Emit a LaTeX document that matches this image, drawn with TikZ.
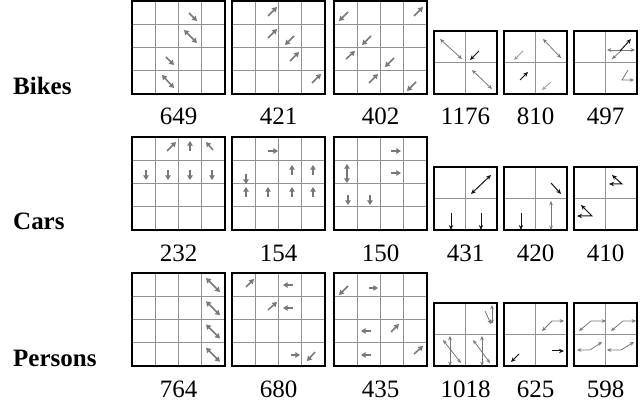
\documentclass[tikz,border=0pt]{standalone}
\usepackage{fontspec}
\setmainfont{Liberation Serif}
\usetikzlibrary{arrows.meta}
\definecolor{gridgray}{RGB}{145,145,145}
\definecolor{arrgray}{RGB}{120,120,120}
\definecolor{lightarr}{RGB}{160,160,160}
\definecolor{darkarr}{RGB}{20,20,20}
\tikzset{
 ga/.style={draw=arrgray,line width=1.5pt,-{Triangle[length=4.6pt,width=5.4pt]}},
 gd/.style={draw=arrgray,line width=1.5pt,{Triangle[length=4.6pt,width=5.4pt]}-{Triangle[length=4.6pt,width=5.4pt]}},
 sa/.style={draw=arrgray,line width=.8pt,-{Stealth[length=4.4pt,width=3.8pt]}},
 sd/.style={draw=arrgray,line width=.8pt,{Stealth[length=4.4pt,width=3.8pt]}-{Stealth[length=4.4pt,width=3.8pt]}},
 la/.style={sa,draw=lightarr},
 ba/.style={draw=darkarr,line width=1pt,-{Stealth[length=5pt,width=4.4pt]}},
 bd/.style={ba,{Stealth[length=5pt,width=4.4pt]}-{Stealth[length=5pt,width=4.4pt]}},
 rowlabel/.style={anchor=base west,font=\fontsize{25}{30}\selectfont\bfseries,inner sep=0pt},
 count/.style={anchor=base,font=\fontsize{25}{30}\selectfont,inner sep=0pt}
}
% big 4x4 grid and small 2x2 grid, top left corner given
\newcommand\biggrid[2]{\foreach\k in{1,2,3}{\draw[gridgray,line width=.9pt](#1+23.25*\k,#2)--++(0,93) (#1,#2+23.25*\k)--++(93,0);}\draw[line width=2.6pt](#1,#2)rectangle++(93,93);}
\newcommand\smallgrid[2]{\draw[gridgray,line width=.9pt](#1+31.5,#2)--++(0,63) (#1,#2+31.5)--++(63,0);\draw[line width=1.6pt](#1,#2)rectangle++(63,63);}
\begin{document}
\begin{tikzpicture}[x=1pt,y=-1pt]
\useasboundingbox(0,0)rectangle(641,406);
\foreach\t in{1,137,273}{\foreach\l in{132,232,334}{\biggrid{\l}{\t}}\foreach\l in{434,504,574}{\smallgrid{\l}{\t+30}}}
\node[rowlabel](bikes)at(13,95){Bikes};\node[rowlabel](cars)at(13,230){Cars};\node[rowlabel](persons)at(13,367){Persons};
\foreach\x/\a/\b/\c [count=\i] in{178.5/649/232/764,278.5/421/154/680,380.5/402/150/435,465.5/1176/431/1018,535.5/810/420/625,605.5/497/410/598}{
 \node[count](n1\i)at(\x,125){\a};\node[count](n2\i)at(\x,262){\b};\node[count](n3\i)at(\x,398){\c};}
% Bikes
\draw[ga](189,13)--(197,21);\draw[gd](184,30)--(197,43);\draw[ga](166,57)--(174,65);\draw[gd](162,75)--(174,88);
\draw[ga](268,16)--(277,7);\draw[ga](268,38)--(277,29);\draw[ga](294,36)--(285,45);\draw[ga](290,61)--(299,52);\draw[ga](312,83)--(321,74);
\draw[ga](348,12)--(339,21);\draw[ga](414,16)--(423,7);\draw[ga](371,36)--(362,45);\draw[ga](346,59)--(355,51);\draw[ga](394,58)--(385,67);\draw[ga](369,83)--(378,74);\draw[ga](416,82)--(407,91);
\draw[sd](440,39)--(462,59);\draw[ba](479,51)--(470,60);\draw[sd](472,70)--(492,89);
\draw[la](523,51)--(514,60);\draw[sd](543,39)--(561,58);\draw[ba](520,80)--(528,72);\draw[la](551,82)--(542,90);
\draw[sd](607,50)--(635,50);\draw[sa](622,50)--(612,59);\draw[ba](620,51)--(631,39);\draw[sa](628,70)--(622,80)--(634,80);
% Cars
\draw[ga](167,151)--(176,142);\draw[ga](190,151)--(190,141);\draw[ga](213,150)--(206,142);
\foreach\x in{146,168,190,212}{\draw[ga](\x,170)--(\x,180);}
\draw[ga](268,151)--(278,151);\draw[ga](292,175)--(292,165);\draw[ga](313,175)--(313,165);\draw[ga](246,174)--(246,184);
\foreach\x in{246,268,292,313}{\draw[ga](\x,197)--(\x,187);}
\draw[ga](391,151)--(401,151);\draw[ga](391,173)--(401,173);\draw[gd](347,164)--(347,183);\draw[ga](348,195)--(348,205);\draw[ga](370,195)--(370,205);
\draw[bd](471,194)--(491,175);\draw[ba](451,213)--(451,230);\draw[ba](481,213)--(481,230);
\draw[ba](551,183)--(561,194);\draw[ba](521,213)--(521,230);\draw[sd](551,201)--(551,230);
\draw[bd](612,175)--(622,184)--(609,184);\draw[bd](581,205)--(592,216)--(577,216);
% Persons
\foreach\r in{0,1,2,3}{\draw[gd](206,278+23.25*\r)--(220,292+23.25*\r);}
\draw[ga](246,287)--(254,279);\draw[ga](293,285)--(283,285);\draw[ga](268,310)--(277,302);\draw[ga](293,308)--(283,308);\draw[ga](291,355)--(300,355);\draw[ga](315,352)--(307,361);
\draw[ga](348,286)--(339,295);\draw[ga](369,288)--(378,288);\draw[ga](371,331)--(361,331);\draw[ga](391,332)--(399,324);\draw[ga](371,355)--(361,355);\draw[ga](414,354)--(423,346);
\draw[sd](492,305)--(492,324);\draw[sa](485,311)--(491,324);\draw[sd](443,340)--(461,363);\draw[sd](450,336)--(450,366);\draw[sd](473,340)--(490,363);\draw[sd](482,336)--(482,366);
\draw[sd](542,331)--(552,321)--(564,321);\draw[ba](519,354)--(511,362);\draw[ba](552,351)--(564,351);
\draw[sd](579,331)--(591,321)--(606,321);\draw[sd](611,331)--(623,321)--(636,321);\draw[sd](577,350)--(590,350)--(602,342);\draw[sd](607,350)--(621,350)--(634,342);
\end{tikzpicture}
\end{document}
